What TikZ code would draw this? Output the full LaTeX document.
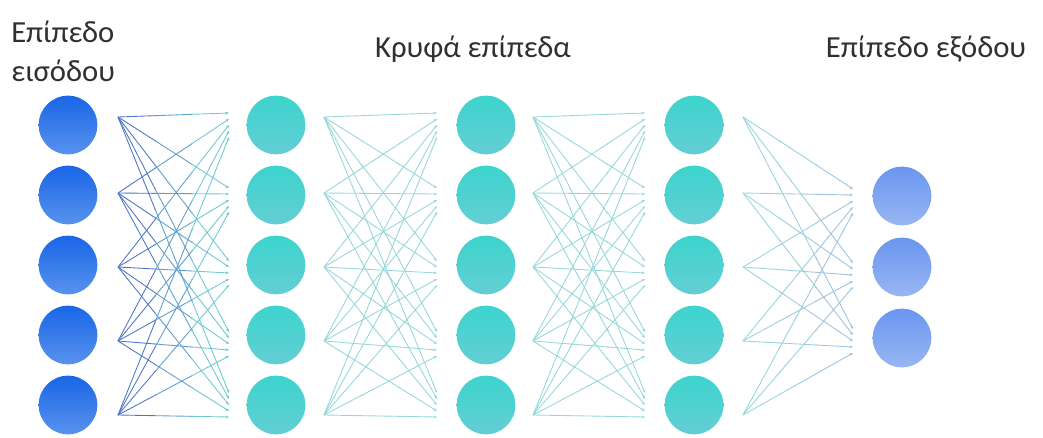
\documentclass[tikz,border=0pt]{standalone}
\usepackage{fontspec}
\setmainfont{Carlito}
\usetikzlibrary{calc,arrows.meta}
\definecolor{inA}{RGB}{26,102,232}
\definecolor{inB}{RGB}{88,146,236}
\definecolor{hidA}{RGB}{60,212,206}
\definecolor{hidB}{RGB}{100,206,212}
\definecolor{outA}{RGB}{106,150,240}
\definecolor{outB}{RGB}{152,182,242}
\definecolor{txt}{RGB}{48,48,48}
\definecolor{wA}{RGB}{80,118,200}
\definecolor{wB}{RGB}{110,200,210}
\definecolor{wC}{RGB}{150,216,218}
\definecolor{wD}{RGB}{160,195,222}
\newcommand\nnwire[4]{%
  \draw[wire,#3] (#1) -- ($(#1)!0.34!(#2)$);
  \draw[wire,#3!50!#4] ($(#1)!0.33!(#2)$) -- ($(#1)!0.67!(#2)$);
  \draw[wire,#4,-{Stealth[length=2.5pt,width=2pt]}] ($(#1)!0.66!(#2)$) -- (#2);
}
\begin{document}
\begin{tikzpicture}[x=0.75pt,y=-0.75pt,
  neuron/.style={circle,minimum size=44pt,inner sep=0pt},
  inneuron/.style={neuron,top color=inA,bottom color=inB},
  hidneuron/.style={neuron,top color=hidA,bottom color=hidB},
  outneuron/.style={neuron,top color=outA,bottom color=outB},
  wire/.style={line width=0.65pt},
  lab/.style={font=\fontsize{23pt}{27pt}\selectfont,text=txt,inner sep=0pt}]
\useasboundingbox (0,0) rectangle (1043,437);
\fill[white] (0,0) rectangle (1043,437);
% labels
\node[lab,anchor=base west] (tin1) at (11,42) {Επίπεδο};
\node[lab,anchor=base west] (tin2) at (11,81) {εισόδου};
\node[lab,anchor=base] (thid) at (473,57) {Κρυφά επίπεδα};
\node[lab,anchor=base] (tout) at (926,57) {Επίπεδο εξόδου};
% neurons
\foreach \i/\y in {1/125,2/195,3/265,4/335,5/405}{
  \node[inneuron] (a\i) at (68,\y) {};
  \node[hidneuron] (b\i) at (276,\y) {};
  \node[hidneuron] (c\i) at (486,\y) {};
  \node[hidneuron] (d\i) at (694,\y) {};
}
\foreach \j/\y in {1/196,2/267,3/338}{
  \node[outneuron] (o\j) at (902,\y) {};
}
% wire end points
\foreach \L/\sx in {1/118,2/324,3/533,4/743}{
  \foreach \i/\sy in {1/117,2/193,3/267,4/341,5/415}{
    \coordinate (s\L-\i) at (\sx,\sy);
  }
}
\foreach \L/\tx in {1/229,2/437,3/645}{
  \foreach \j/\cy in {1/125,2/200,3/273,4/344,5/405}{
    \foreach \i in {1,...,5}{
      \coordinate (t\L-\j-\i) at (\tx,{\cy+(\i-3)*6});
    }
  }
}
\foreach \j/\cy in {1/201,2/275,3/341}{
  \foreach \i in {1,...,5}{
    \coordinate (t4-\j-\i) at (853,{\cy+(\i-3)*6});
  }
}
% wires
\foreach \i in {1,...,5}{
  \foreach \j in {1,...,5}{
    \nnwire{s1-\i}{t1-\j-\i}{wA}{wB}
    \nnwire{s2-\i}{t2-\j-\i}{wC}{wC}
    \nnwire{s3-\i}{t3-\j-\i}{wC}{wC}
  }
  \foreach \j in {1,2,3}{
    \nnwire{s4-\i}{t4-\j-\i}{wC}{wD}
  }
}
\end{tikzpicture}
\end{document}
